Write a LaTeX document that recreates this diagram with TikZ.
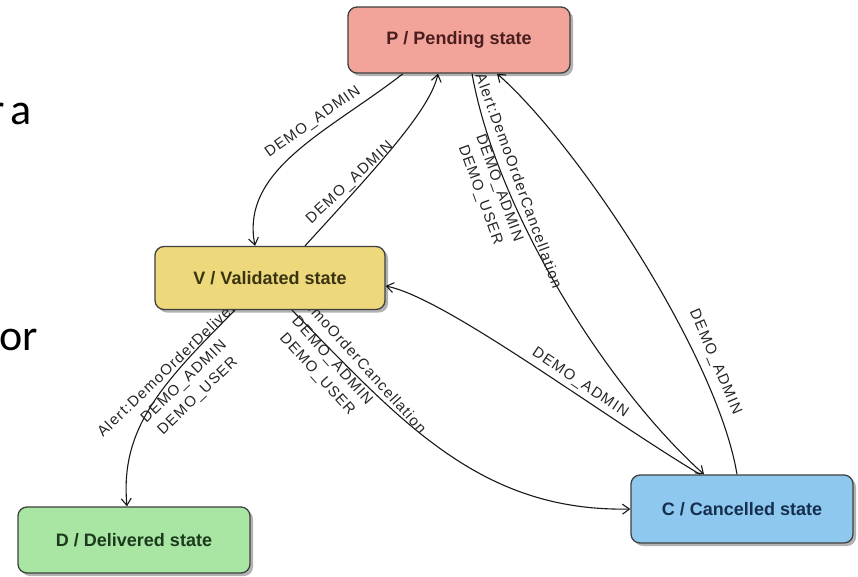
\documentclass[tikz,border=0pt]{standalone}
\usepackage{fontspec}
\setmainfont{Liberation Sans}
\newfontfamily\lblfont[LetterSpace=8]{Liberation Sans}
\newfontfamily\slidefont{Carlito}
\usetikzlibrary{arrows.meta,shadows}
\pgfdeclarelayer{back}
\pgfdeclarelayer{bg}
\pgfsetlayers{back,bg,main}
\definecolor{pfill}{HTML}{F2A39A}
\definecolor{vfill}{HTML}{EDD97C}
\definecolor{dfill}{HTML}{A9E5A3}
\definecolor{cfill}{HTML}{8EC8EE}
\definecolor{ptext}{HTML}{4A1E1E}
\definecolor{vtext}{HTML}{3A3310}
\definecolor{dtext}{HTML}{1C3A1C}
\definecolor{ctext}{HTML}{14304E}
\begin{document}
\begin{tikzpicture}[x=1pt,y=-1pt,
  statebox/.style={draw=black!75,line width=1.3pt,rounded corners=9pt,inner sep=0pt,
    font=\bfseries\fontsize{18}{20}\selectfont,
    drop shadow={shadow xshift=3pt,shadow yshift=-3pt,opacity=0.3,fill=black}},
  edge/.style={draw=black!90,line width=1.1pt,-{Straight Barb[length=7pt,width=10pt,line width=1.1pt]}},
  lbl/.style={font=\lblfont\fontsize{15}{20}\selectfont,text=black!85,align=center,inner sep=0pt},
  slide/.style={font=\slidefont\fontsize{44}{50}\selectfont,text=black,inner sep=0pt}]
\useasboundingbox (0,0) rectangle (858,576);
\begin{pgfonlayer}{back}
\fill[white] (0,0) rectangle (858,576);
\end{pgfonlayer}

\node[slide,anchor=base east] (t1) at (32,124) {r\kern-4pt{} a};
\node[slide,anchor=base east] (t2) at (38,350) {or};

\node[statebox,fill=pfill,text=ptext,minimum width=222pt,minimum height=66pt] (P) at (459,40) {P / Pending state};
\node[statebox,fill=vfill,text=vtext,minimum width=230pt,minimum height=63pt] (V) at (270,278) {V / Validated state};
\node[statebox,fill=dfill,text=dtext,minimum width=232pt,minimum height=66pt] (D) at (134,540) {D / Delivered state};
\node[statebox,fill=cfill,text=ctext,minimum width=222pt,minimum height=68pt] (C) at (742,509) {C / Cancelled state};

\begin{pgfonlayer}{bg}
% P -> V
\draw[edge] ([xshift=-56pt]P.south) .. controls +(-73,57) and +(-15,-77) .. ([xshift=-15pt]V.north);
% V -> P
\draw[edge] ([xshift=35pt]V.north) .. controls +(75,-82) and +(-8,36) .. ([xshift=-21pt]P.south);
% P -> C
\draw[edge] ([xshift=13pt]P.south) .. controls +(25,140) and +(-95,-85) .. ([xshift=-38pt]C.north);
% C -> P
\draw[edge] ([xshift=-5pt]C.north) .. controls +(-20,-120) and +(80,70) .. ([xshift=38pt]P.south);
% C -> V
\draw[edge] ([xshift=-42pt]C.north) .. controls +(-100,-60) and +(60,12) .. ([yshift=-8pt]V.east);
% V -> C
\draw[edge] ([xshift=22pt]V.south) .. controls +(108,110) and +(-151,3) .. (C.west);
% V -> D
\draw[edge] ([xshift=-35pt]V.south) .. controls +(-75,75) and +(-7,-77) .. ([xshift=-7pt]D.north);

\node[lbl,rotate=35] (la) at (313,122) {DEMO\_ADMIN};
\node[lbl,rotate=43] (lb) at (350,183) {DEMO\_ADMIN};
\node[lbl,rotate=-70] (lc) at (499,188) {Alert:DemoOrderCancellation\\DEMO\_ADMIN\\DEMO\_USER};
\node[lbl,rotate=-67] (ld) at (715,362) {DEMO\_ADMIN};
\node[lbl,rotate=-34] (le) at (580,383) {DEMO\_ADMIN};
\node[lbl,rotate=-48] (lf) at (332,361) {Alert:DemoOrderCancellation\\DEMO\_ADMIN\\DEMO\_USER};
\node[lbl,rotate=44] (lg) at (184,382) {Alert:DemoOrderDelivery\\DEMO\_ADMIN\\DEMO\_USER};
\end{pgfonlayer}
\end{tikzpicture}
\end{document}
